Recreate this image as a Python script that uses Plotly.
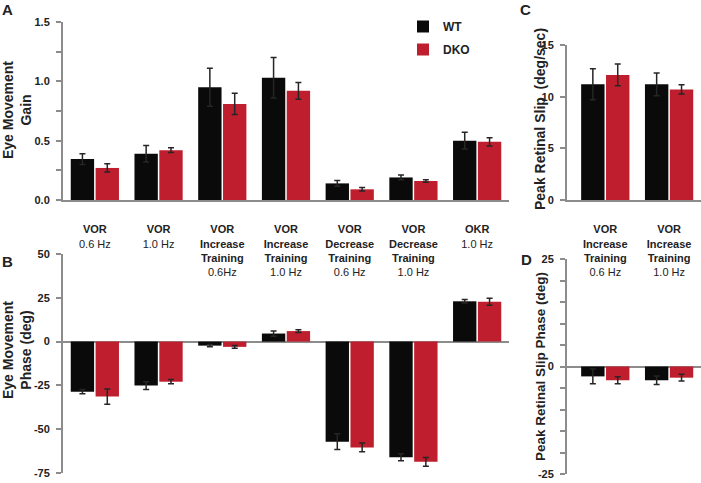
import plotly.graph_objects as go

# ---------------- data ----------------
cats_A = ["VOR 0.6", "VOR 1.0", "Inc 0.6", "Inc 1.0", "Dec 0.6", "Dec 1.0", "OKR 1.0"]
ticktext_A = ["<b>VOR</b><br>0.6 Hz", "<b>VOR</b><br>1.0 Hz",
              "<b>VOR</b><br><b>Increase</b><br><b>Training</b><br>0.6Hz",
              "<b>VOR</b><br><b>Increase</b><br><b>Training</b><br>1.0 Hz",
              "<b>VOR</b><br><b>Decrease</b><br><b>Training</b><br>0.6 Hz",
              "<b>VOR</b><br><b>Decrease</b><br><b>Training</b><br>1.0 Hz",
              "<b>OKR</b><br>1.0 Hz"]
gain_wt = [0.345, 0.39, 0.95, 1.03, 0.14, 0.19, 0.50]
gain_wt_err = [0.045, 0.07, 0.16, 0.17, 0.025, 0.02, 0.07]
gain_dko = [0.27, 0.42, 0.81, 0.92, 0.09, 0.16, 0.49]
gain_dko_err = [0.035, 0.02, 0.09, 0.07, 0.015, 0.01, 0.035]

phase_wt = [-28.6, -25.1, -2.3, 4.6, -57.1, -66.0, 23.0]
phase_wt_err = [1.2, 2.2, 0.6, 1.5, 4.5, 2.0, 1.0]
phase_dko = [-31.4, -22.9, -3.0, 6.0, -60.4, -68.6, 22.8]
phase_dko_err = [4.3, 1.2, 0.8, 0.8, 2.5, 2.5, 2.0]

cats_C = ["Inc 0.6", "Inc 1.0"]
ticktext_C = ["<b>VOR</b><br><b>Increase</b><br><b>Training</b><br>0.6 Hz",
              "<b>VOR</b><br><b>Increase</b><br><b>Training</b><br>1.0 Hz"]
slip_wt = [11.2, 11.2]
slip_wt_err = [1.5, 1.1]
slip_dko = [12.1, 10.7]
slip_dko_err = [1.05, 0.45]

slipph_wt = [-2.3, -3.2]
slipph_wt_err = [1.7, 1.0]
slipph_dko = [-3.2, -2.6]
slipph_dko_err = [0.8, 0.8]

gain_ticks = [0, 0.25, 0.5, 0.75, 1.0, 1.25, 1.5]
gain_ticktext = ["0.0", "", "0.5", "", "1.0", "", "1.5"]
phase_ticks = [50, 25, 0, -25, -50, -75]
phase_ticktext = ["50", "25", "0", "-25", "-50", "-75"]
slip_ticks = [0, 5, 10, 15]
slip_ticktext = ["0", "5", "10", "15"]
slipph_ticks = [25, 20, 15, 10, 5, 0, -5, -10, -15, -20, -25]
slipph_ticktext = ["25", "", "", "", "", "0", "", "", "", "", "-25"]

# ---------------- style ----------------
W, H = 701, 483
BLACK = "#0a0a0a"
RED = "#be1e2d"
AX = "#8c8c8c"
TXT = "#222222"
FONT = "Liberation Sans, Arial, sans-serif"


def px_x(a, b):
    return [a / W, b / W]


def px_y(top, bottom):
    return [1 - bottom / H, 1 - top / H]


def bold(lst):
    return ["<b>%s</b>" % s if s else "" for s in lst]


fig = go.Figure()

err_style = dict(type="data", visible=True, color="#262626", thickness=1.5, width=3)


def add_pair(x, wt, wte, dko, dkoe, xa, ya, show):
    fig.add_trace(go.Bar(x=x, y=wt, name="<b>WT</b>", marker=dict(color=BLACK, line=dict(width=0)),
                         error_y=dict(array=wte, **err_style), xaxis=xa, yaxis=ya,
                         showlegend=show, legendgroup="wt"))
    fig.add_trace(go.Bar(x=x, y=dko, name="<b>DKO</b>", marker=dict(color=RED, line=dict(width=0)),
                         error_y=dict(array=dkoe, **err_style), xaxis=xa, yaxis=ya,
                         showlegend=show, legendgroup="dko"))


add_pair(cats_A, gain_wt, gain_wt_err, gain_dko, gain_dko_err, "x", "y", True)
add_pair(cats_A, phase_wt, phase_wt_err, phase_dko, phase_dko_err, "x2", "y2", False)
add_pair(cats_C, slip_wt, slip_wt_err, slip_dko, slip_dko_err, "x3", "y3", False)
add_pair(cats_C, slipph_wt, slipph_wt_err, slipph_dko, slipph_dko_err, "x4", "y4", False)

tickfont = dict(family=FONT, size=11, color=TXT)
common_y = dict(showline=True, linecolor=AX, linewidth=2, ticks="outside", ticklen=5,
                tickcolor=AX, tickwidth=1.5, showgrid=False, tickfont=tickfont,
                ticklabelstandoff=4, automargin=False)

fig.update_layout(
    width=W, height=H, margin=dict(l=0, r=0, t=0, b=0, autoexpand=False),
    paper_bgcolor="white", plot_bgcolor="white",
    barmode="group", bargap=0.22, bargroupgap=0.06,
    font=dict(family=FONT, color=TXT),
    legend=dict(x=403 / W, y=1 - 12 / H, xanchor="left", yanchor="top",
                font=dict(family=FONT, size=12, color=TXT), tracegroupgap=4,
                bgcolor="rgba(0,0,0,0)", itemwidth=30),
    xaxis=dict(domain=px_x(63, 509), anchor="y", categoryorder="array", categoryarray=cats_A,
               range=[-0.5, 6.5], showline=True, linecolor=AX, linewidth=2, ticks="",
               tickvals=cats_A, ticktext=ticktext_A, tickfont=tickfont, ticklabelstandoff=18,
               showgrid=False, automargin=False),
    yaxis=dict(domain=px_y(22, 200), anchor="x", range=[0, 1.5], tickvals=gain_ticks,
               ticktext=bold(gain_ticktext), zeroline=False, **common_y),
    xaxis2=dict(domain=px_x(63, 509), anchor="y2", categoryorder="array", categoryarray=cats_A,
                range=[-0.5, 6.5], showline=False, showticklabels=False, ticks="", showgrid=False,
                automargin=False),
    yaxis2=dict(domain=px_y(254, 473), anchor="x2", range=[-75, 50], tickvals=phase_ticks,
                ticktext=bold(phase_ticktext),
                zeroline=True, zerolinecolor=AX, zerolinewidth=2, **common_y),
    xaxis3=dict(domain=px_x(567, 701), anchor="y3", categoryorder="array", categoryarray=cats_C,
                range=[-0.6, 1.5], showline=True, linecolor=AX, linewidth=2, ticks="",
                tickvals=cats_C, ticktext=ticktext_C, tickfont=tickfont, ticklabelstandoff=18,
                showgrid=False, automargin=False),
    yaxis3=dict(domain=px_y(45, 200), anchor="x3", range=[0, 15], tickvals=slip_ticks,
                ticktext=bold(slip_ticktext), zeroline=False, **common_y),
    xaxis4=dict(domain=px_x(567, 701), anchor="y4", categoryorder="array", categoryarray=cats_C,
                range=[-0.6, 1.5], showline=False, showticklabels=False, ticks="", showgrid=False,
                automargin=False),
    yaxis4=dict(domain=px_y(259, 474), anchor="x4", range=[-25, 25], tickvals=slipph_ticks,
                ticktext=bold(slipph_ticktext), zeroline=True, zerolinecolor=AX, zerolinewidth=2,
                **common_y),
)

# axis titles
titles = [
    ("<b>Eye Movement<br>Gain</b>", 17, 110, 14),
    ("<b>Eye Movement<br>Phase (deg)</b>", 17, 350, 14),
    ("<b>Peak Retinal Slip  (deg/sec)</b>", 540, 119, 14),
    ("<b>Peak Retinal Slip Phase (deg)</b>", 540, 367, 13.5),
]
for t, x, y, s in titles:
    fig.add_annotation(text=t, x=x / W, y=1 - y / H, xref="paper", yref="paper",
                       textangle=-90, showarrow=False, xanchor="center", yanchor="middle",
                       font=dict(family=FONT, size=s, color=TXT), align="center")

letters = [("A", 7, 10), ("B", 7, 261), ("C", 525, 10), ("D", 526, 259)]
for t, x, y in letters:
    fig.add_annotation(text="<b>%s</b>" % t, x=x / W, y=1 - y / H, xref="paper", yref="paper",
                       showarrow=False, xanchor="center", yanchor="middle",
                       font=dict(family=FONT, size=15, color=TXT))

fig.write_html("out.html", config={"displayModeBar": False},
               post_script="document.body.style.margin='0px';document.body.style.padding='0px';")
